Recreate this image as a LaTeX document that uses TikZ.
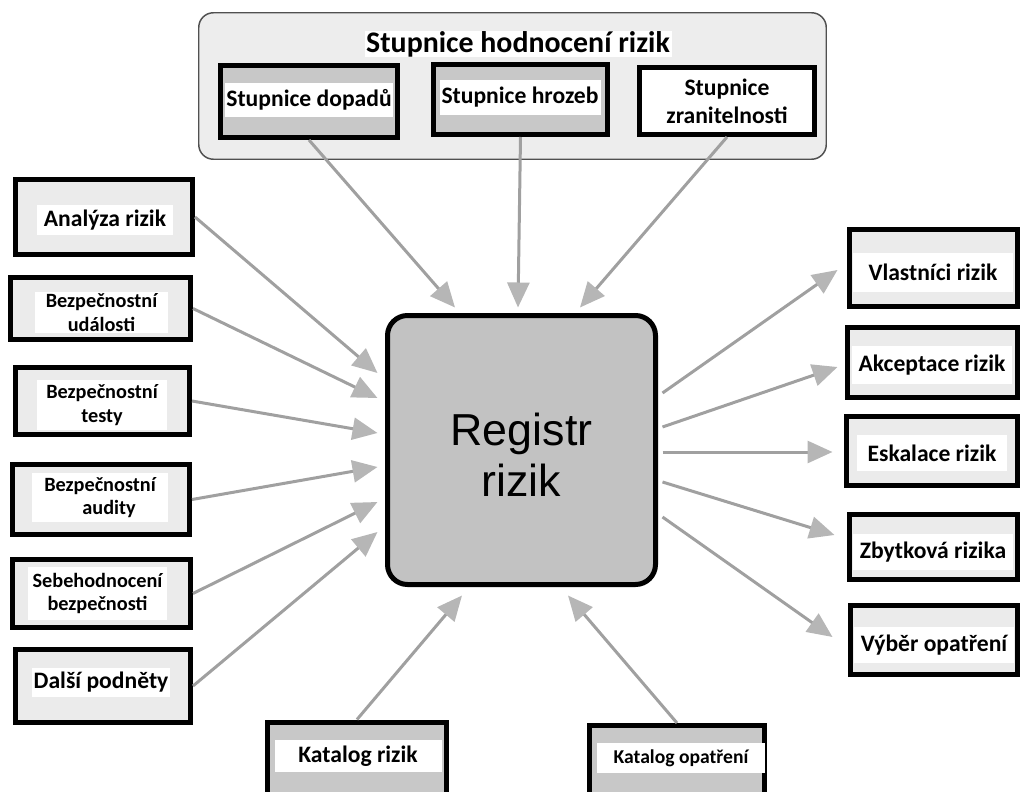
\documentclass[tikz,border=0pt]{standalone}
\usepackage{fontspec}
\setmainfont{Carlito}
\newfontfamily\regfont{Liberation Sans}
\usetikzlibrary{arrows.meta,calc}

\definecolor{linegray}{HTML}{A0A0A0}
\definecolor{headgray}{HTML}{B6B6B6}
\definecolor{panelfill}{HTML}{EDEDED}
\definecolor{panelline}{HTML}{505050}
\definecolor{lightbox}{HTML}{EBEBEB}
\definecolor{darkbox}{HTML}{C8C8C8}
\definecolor{regfill}{HTML}{C2C2C2}

% one drawing unit = one pixel
\newcommand\pxu{0.75pt}

\tikzset{
  sz/.style 2 args={minimum width=#1*\pxu, minimum height=#2*\pxu},
  frame/.style={draw=black, line width=3.75pt, inner sep=0pt},
  bar/.style={fill=white, inner sep=0pt, align=center},
  big/.style={font=\bfseries\fontsize{17.7}{21}\selectfont},
  small/.style={font=\bfseries\fontsize{15.2}{17.5}\selectfont},
  conn/.style={draw=linegray, line width=2.25pt,
    -{Triangle[length=18.75pt, width=16.5pt, color=headgray]}},
}

\begin{document}
\begin{tikzpicture}[x=0.75pt, y=-0.75pt]
\useasboundingbox (0,0) rectangle (1022,792);
\clip (0,0) rectangle (1022,792);

% ---------- scale panel at the top ----------
\node[draw=panelline, line width=1.1pt, rounded corners=11pt, fill=panelfill,
      sz={627.5}{146.5}] (scales) at (512.5,86) {};
\node[bar, font=\bfseries\fontsize{22.4}{26}\selectfont, sz={307}{26}]
      (scales-title) at (518,44) {Stupnice hodnocení rizik};

\node[frame, fill=darkbox, sz={177}{72}] (dop) at (309,101.5) {};
\node[bar, big, sz={168}{34}] (dop-t) at (309,100) {Stupnice dopadů};

\node[frame, fill=darkbox, sz={174}{70}] (hro) at (520.5,99.5) {};
\node[bar, big, sz={161}{35}] (hro-t) at (520,97.5) {Stupnice hrozeb};

\node[frame, fill=white, sz={175}{67}] (zra) at (727,101) {};
\node[bar, big] (zra-t) at (727,101) {Stupnice\\zranitelnosti};

% ---------- central register ----------
\node[frame, fill=regfill, rounded corners=15pt, sz={268}{269}]
      (reg) at (521.5,450) {};
\node[font=\regfont\fontsize{33.6}{38}\selectfont, align=center, inner sep=0pt]
      (reg-t) at (521.5,455) {Registr\\rizik};

% ---------- inputs on the left ----------
\node[frame, fill=lightbox, sz={177}{75}] (ana) at (104,217) {};
\node[bar, big, sz={136}{30}] (ana-t) at (105,220) {Analýza rizik};

\node[frame, fill=lightbox, sz={180}{62}] (bud) at (100.5,308.5) {};
\node[bar, small, sz={133}{41}] (bud-t) at (101.5,312.5) {Bezpečnostní\\události};

\node[frame, fill=lightbox, sz={174}{67}] (bte) at (102.5,401) {};
\node[bar, small, sz={130}{50}] (bte-t) at (102,405) {Bezpečnostní\\testy};

\node[frame, fill=lightbox, sz={177}{70}] (bau) at (101,499.5) {};
\node[bar, small, sz={136}{49}] (bau-t) at (100,497.5) {Bezpečnostní\\\hspace*{0.9em}audity};

\node[frame, fill=lightbox, sz={178}{68}] (seb) at (101.5,593.5) {};
\node[bar, small, sz={139}{53}] (seb-t) at (97.5,593.5) {Sebehodnocení\\bezpečnosti};

\node[frame, fill=lightbox, sz={175}{73}] (dal) at (103,686) {};
\node[bar, big, sz={138}{29}] (dal-t) at (101,682.5) {Další podněty};

% ---------- outputs on the right ----------
\node[frame, fill=lightbox, sz={168}{77}] (vla) at (933.5,268) {};
\node[bar, big, sz={160}{39}] (vla-t) at (933,272.5) {Vlastníci rizik};

\node[frame, fill=lightbox, sz={170}{70}] (akc) at (932.5,362.5) {};
\node[bar, big, sz={160}{38}] (akc-t) at (932,365) {Akceptace rizik};

\node[frame, fill=lightbox, sz={171}{69}] (esk) at (932,451) {};
\node[bar, big, sz={150}{36}] (esk-t) at (932,453) {Eskalace rizik};

\node[frame, fill=lightbox, sz={168}{65}] (zby) at (933.5,547) {};
\node[bar, big, sz={160}{36}] (zby-t) at (933,552) {Zbytková rizika};

\node[frame, fill=lightbox, sz={167}{69}] (vyb) at (934,640) {};
\node[bar, big, sz={160}{36}] (vyb-t) at (934,645) {Výběr opatření};

% ---------- catalogues at the bottom ----------
\node[frame, fill=darkbox, sz={179}{80}] (kri) at (357,762) {};
\node[bar, big, sz={167}{32}] (kri-t) at (358,756) {Katalog rizik};

\node[frame, fill=darkbox, sz={175}{77}] (kop) at (677,764) {};
\node[bar, font=\bfseries\fontsize{14.7}{17}\selectfont, sz={168}{30}]
      (kop-t) at (681,758) {Katalog opatření};

% ---------- connectors ----------
\draw[conn] (dop.south) -- ($(reg.north)+(-66.5,-5.5)$);
\draw[conn] (hro.south) -- ($(reg.north)+(-3.5,-5.5)$);
\draw[conn] (zra.south) -- ($(reg.north)+(58.5,-5.5)$);

\draw[conn] (ana.east) -- ($(reg.west)+(-7.5,-77)$);
\draw[conn] (bud.east) -- ($(reg.west)+(-7.5,-52)$);
\draw[conn] (bte.east) -- ($(reg.west)+(-7.5,-17)$);
\draw[conn] (bau.east) -- ($(reg.west)+(-7.5,17)$);
\draw[conn] (seb.east) -- ($(reg.west)+(-7.5,52)$);
\draw[conn] (dal.east) -- ($(reg.west)+(-7.5,82)$);

\draw[conn] ($(reg.east)+(4.5,-57)$) -- ($(vla.west)+(-9.5,2)$);
\draw[conn] ($(reg.east)+(4.5,-23)$) -- ($(akc.west)+(-7.5,4.5)$);
\draw[conn] ($(reg.east)+(4.5,2)$)   -- ($(esk.west)+(-11.5,1)$);
\draw[conn] ($(reg.east)+(4.5,32)$)  -- ($(zby.west)+(-12.5,-12)$);
\draw[conn] ($(reg.east)+(4.5,67)$)  -- ($(vyb.west)+(-15.5,-3)$);

\draw[conn] (kri.north) -- ($(reg.south)+(-59.5,8.5)$);
\draw[conn] (kop.north) -- ($(reg.south)+(46.5,8.5)$);
\end{tikzpicture}
\end{document}
